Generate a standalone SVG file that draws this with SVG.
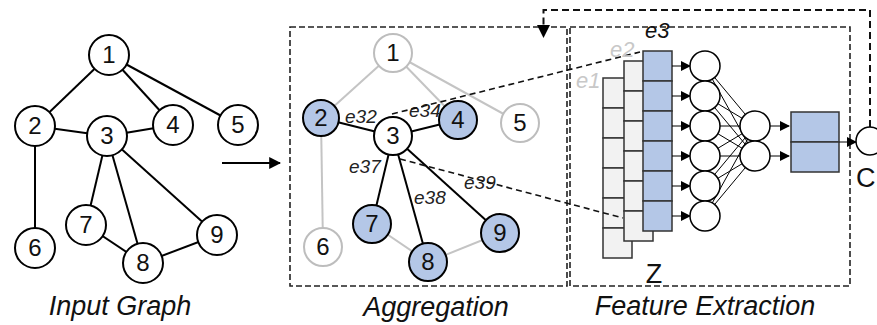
<svg xmlns="http://www.w3.org/2000/svg" width="877" height="325" viewBox="0 0 877 325">
<defs>
<marker id="ah" markerUnits="userSpaceOnUse" markerWidth="12" markerHeight="12" viewBox="0 0 10 10" refX="9" refY="5" orient="auto"><path d="M0,0 L10,5 L0,10 z" fill="#000"/></marker>
<marker id="ahs" markerUnits="userSpaceOnUse" markerWidth="10" markerHeight="10" viewBox="0 0 10 10" refX="9" refY="5" orient="auto"><path d="M0,0 L10,5 L0,10 z" fill="#000"/></marker>
</defs>
<style>
.n{fill:#fff;stroke:#000;stroke-width:2}
.b{fill:#b4c7e7;stroke:#000;stroke-width:2}
.g{fill:#fff;stroke:#bdbdbd;stroke-width:2}
.t{font-family:"Liberation Sans",Arial,sans-serif;font-size:24px;text-anchor:middle;fill:#111}
.e{stroke:#000;stroke-width:2}
.ge{stroke:#c4c4c4;stroke-width:2}
.lbl{font-family:"Liberation Sans",Arial,sans-serif;font-style:italic;font-size:19px;fill:#222}
.cap{font-family:"Liberation Sans",Arial,sans-serif;font-style:italic;font-size:27px;text-anchor:middle;fill:#111}
.box{fill:none;stroke:#222;stroke-width:1.6;stroke-dasharray:6 3}
.dl{fill:none;stroke:#111;stroke-width:1.6;stroke-dasharray:6 4}
.c1{fill:#f2f2f2;stroke:#333;stroke-width:1.5}
.c3{fill:#b4c7e7;stroke:#333;stroke-width:1.5}
.nn{fill:#fff;stroke:#000;stroke-width:1.5}
.w{stroke:#000;stroke-width:1}
</style>
<rect width="877" height="325" fill="#fff"/>

<g id="connectors">
<g id="input-edges">
<line class="e" x1="109" y1="55" x2="35" y2="126"/>
<line class="e" x1="109" y1="55" x2="173" y2="125"/>
<line class="e" x1="109" y1="55" x2="238" y2="125"/>
<line class="e" x1="35" y1="126" x2="107" y2="136"/>
<line class="e" x1="35" y1="126" x2="35" y2="248"/>
<line class="e" x1="107" y1="136" x2="173" y2="125"/>
<line class="e" x1="107" y1="136" x2="86" y2="225"/>
<line class="e" x1="107" y1="136" x2="143" y2="263"/>
<line class="e" x1="107" y1="136" x2="217" y2="235"/>
<line class="e" x1="86" y1="225" x2="143" y2="263"/>
<line class="e" x1="143" y1="263" x2="217" y2="235"/>
</g>
<line class="e" x1="222" y1="163" x2="280" y2="163" marker-end="url(#ah)"/>
<g id="agg-edges">
<line class="ge" x1="393" y1="53" x2="321" y2="118"/>
<line class="ge" x1="393" y1="53" x2="458" y2="120"/>
<line class="ge" x1="393" y1="53" x2="520" y2="123"/>
<line class="ge" x1="321" y1="118" x2="323" y2="247"/>
<line class="ge" x1="372" y1="224" x2="428" y2="262"/>
<line class="ge" x1="428" y1="262" x2="500" y2="233"/>
<line class="e" x1="321" y1="118" x2="393" y2="136"/>
<line class="e" x1="393" y1="136" x2="458" y2="120"/>
<line class="e" x1="393" y1="136" x2="372" y2="224"/>
<line class="e" x1="393" y1="136" x2="428" y2="262"/>
<line class="e" x1="393" y1="136" x2="500" y2="233"/>
</g>
<path class="box" d="M290 27 H567 V286 H290 Z"/>
<path class="box" d="M570 27 H850 V286 H570 Z"/>
<path d="M870 127 V10 H543.5 V26" fill="none" stroke="#111" stroke-width="2" stroke-dasharray="7 4"/>
<polygon points="537,25 550,25 543.5,38" fill="#000"/>
<g id="nn-edges">
<line class="w" x1="705" y1="66" x2="755" y2="126"/><line class="w" x1="705" y1="66" x2="755" y2="156"/>
<line class="w" x1="705" y1="96" x2="755" y2="126"/><line class="w" x1="705" y1="96" x2="755" y2="156"/>
<line class="w" x1="705" y1="126" x2="755" y2="126"/><line class="w" x1="705" y1="126" x2="755" y2="156"/>
<line class="w" x1="705" y1="156" x2="755" y2="126"/><line class="w" x1="705" y1="156" x2="755" y2="156"/>
<line class="w" x1="705" y1="186" x2="755" y2="126"/><line class="w" x1="705" y1="186" x2="755" y2="156"/>
<line class="w" x1="705" y1="216" x2="755" y2="126"/><line class="w" x1="705" y1="216" x2="755" y2="156"/>
</g>
</g>

<g id="in1"><circle class="n" cx="109" cy="55" r="20"/><text class="t" x="109" y="63">1</text></g>
<g id="in2"><circle class="n" cx="35" cy="126" r="20"/><text class="t" x="35" y="134">2</text></g>
<g id="in3"><circle class="n" cx="107" cy="136" r="20"/><text class="t" x="107" y="144">3</text></g>
<g id="in4"><circle class="n" cx="173" cy="125" r="20"/><text class="t" x="173" y="133">4</text></g>
<g id="in5"><circle class="n" cx="238" cy="125" r="20"/><text class="t" x="238" y="133">5</text></g>
<g id="in6"><circle class="n" cx="35" cy="248" r="20"/><text class="t" x="35" y="256">6</text></g>
<g id="in7"><circle class="n" cx="86" cy="225" r="20"/><text class="t" x="86" y="233">7</text></g>
<g id="in8"><circle class="n" cx="143" cy="263" r="20"/><text class="t" x="143" y="271">8</text></g>
<g id="in9"><circle class="n" cx="217" cy="235" r="20"/><text class="t" x="217" y="243">9</text></g>
<text class="cap" x="120" y="315">Input Graph</text>

<g id="ag1"><circle class="g" cx="393" cy="53" r="19"/><text class="t" x="393" y="61">1</text></g>
<g id="ag2"><circle class="b" cx="321" cy="118" r="18"/><text class="t" x="321" y="126">2</text></g>
<g id="ag3"><circle class="n" cx="393" cy="136" r="19"/><text class="t" x="393" y="144">3</text></g>
<g id="ag4"><circle class="b" cx="458" cy="120" r="19"/><text class="t" x="458" y="128">4</text></g>
<g id="ag5"><circle class="g" cx="520" cy="123" r="19"/><text class="t" x="520" y="131">5</text></g>
<g id="ag6"><circle class="g" cx="323" cy="247" r="19"/><text class="t" x="323" y="255">6</text></g>
<g id="ag7"><circle class="b" cx="372" cy="224" r="19"/><text class="t" x="372" y="232">7</text></g>
<g id="ag8"><circle class="b" cx="428" cy="262" r="19"/><text class="t" x="428" y="270">8</text></g>
<g id="ag9"><circle class="b" cx="500" cy="233" r="19"/><text class="t" x="500" y="241">9</text></g>
<text class="lbl" x="345" y="123">e32</text>
<text class="lbl" x="409" y="117">e34</text>
<text class="lbl" x="349" y="173">e37</text>
<text class="lbl" x="414" y="204">e38</text>
<text class="lbl" x="464" y="189">e39</text>
<text class="cap" x="436" y="316">Aggregation</text>

<g id="col-e1">
<rect class="c1" x="603" y="78" width="29" height="30"/><rect class="c1" x="603" y="108" width="29" height="30"/><rect class="c1" x="603" y="138" width="29" height="30"/>
<rect class="c1" x="603" y="168" width="29" height="30"/><rect class="c1" x="603" y="198" width="29" height="30"/><rect class="c1" x="603" y="228" width="29" height="30"/>
</g>
<g id="col-e2">
<rect class="c1" x="624" y="61" width="29" height="30"/><rect class="c1" x="624" y="91" width="29" height="30"/><rect class="c1" x="624" y="121" width="29" height="30"/>
<rect class="c1" x="624" y="151" width="29" height="30"/><rect class="c1" x="624" y="181" width="29" height="30"/><rect class="c1" x="624" y="211" width="29" height="30"/>
</g>
<g id="col-e3">
<rect class="c3" x="643" y="51" width="29" height="30"/><rect class="c3" x="643" y="81" width="29" height="30"/><rect class="c3" x="643" y="111" width="29" height="30"/>
<rect class="c3" x="643" y="141" width="29" height="30"/><rect class="c3" x="643" y="171" width="29" height="30"/><rect class="c3" x="643" y="201" width="29" height="30"/>
</g>
<line class="dl" x1="392" y1="114" x2="640" y2="52"/>
<line class="dl" x1="400" y1="159" x2="623" y2="218"/>
<text class="lbl" x="576" y="88" style="font-size:22px;fill:#c8c8c8">e1</text>
<text class="lbl" x="610" y="57" style="font-size:22px;fill:#c8c8c8">e2</text>
<text class="lbl" x="645" y="38" style="font-size:22px;fill:#111">e3</text>
<text class="cap" x="654" y="283" style="font-style:normal">Z</text>

<g id="arrows-in">
<line class="w" x1="672" y1="66" x2="690" y2="66" marker-end="url(#ahs)"/>
<line class="w" x1="672" y1="96" x2="690" y2="96" marker-end="url(#ahs)"/>
<line class="w" x1="672" y1="126" x2="690" y2="126" marker-end="url(#ahs)"/>
<line class="w" x1="672" y1="156" x2="690" y2="156" marker-end="url(#ahs)"/>
<line class="w" x1="672" y1="186" x2="690" y2="186" marker-end="url(#ahs)"/>
<line class="w" x1="672" y1="216" x2="690" y2="216" marker-end="url(#ahs)"/>
<line class="w" x1="770" y1="126" x2="789" y2="126" marker-end="url(#ahs)"/>
<line class="w" x1="770" y1="156" x2="789" y2="156" marker-end="url(#ahs)"/>
<line class="w" x1="839" y1="142" x2="856" y2="142" marker-end="url(#ahs)"/>
</g>
<g id="l1n1"><circle class="nn" cx="705" cy="66" r="15"/></g>
<g id="l1n2"><circle class="nn" cx="705" cy="96" r="15"/></g>
<g id="l1n3"><circle class="nn" cx="705" cy="126" r="15"/></g>
<g id="l1n4"><circle class="nn" cx="705" cy="156" r="15"/></g>
<g id="l1n5"><circle class="nn" cx="705" cy="186" r="15"/></g>
<g id="l1n6"><circle class="nn" cx="705" cy="216" r="15"/></g>
<g id="l2n1"><circle class="nn" cx="755" cy="126" r="15"/></g>
<g id="l2n2"><circle class="nn" cx="755" cy="156" r="15"/></g>
<g id="out"><rect class="c3" x="791" y="112" width="48" height="30"/><rect class="c3" x="791" y="142" width="48" height="30"/></g>
<g id="nodeC"><circle class="nn" cx="870" cy="141" r="14"/><text class="cap" x="856" y="187" style="font-style:normal;text-anchor:start">C</text></g>
<text class="cap" x="705" y="315">Feature Extraction</text>
</svg>
